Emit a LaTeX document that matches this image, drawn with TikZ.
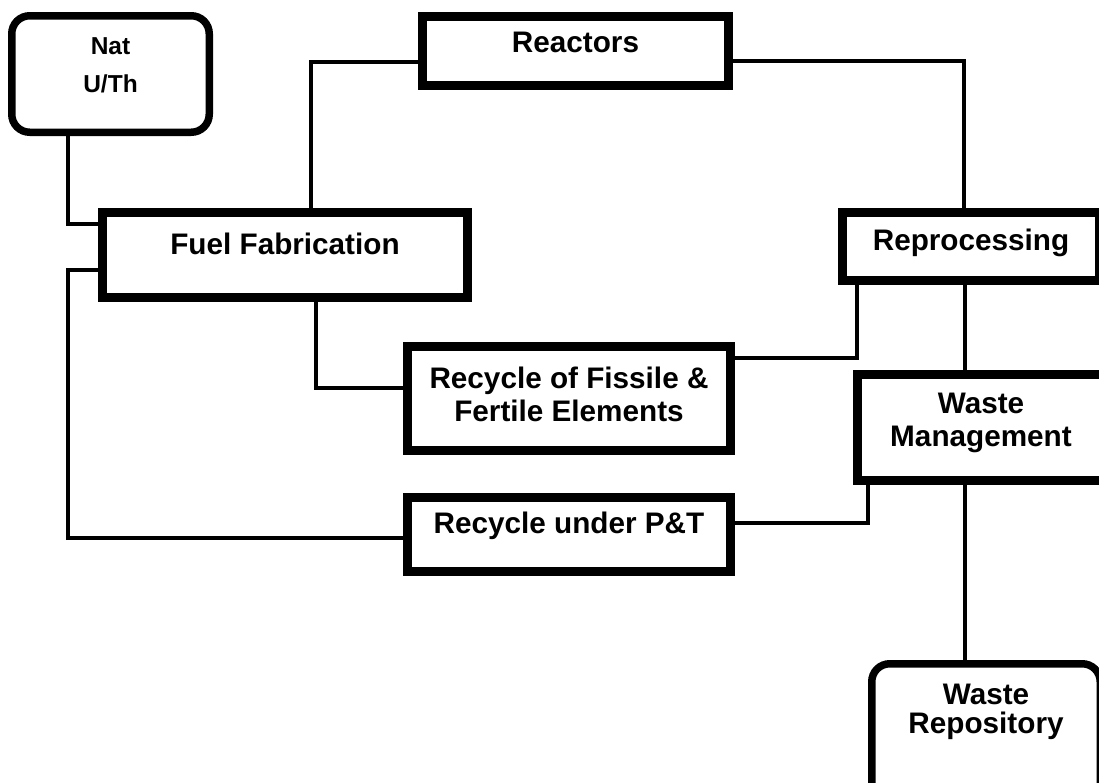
\documentclass[tikz,border=0pt]{standalone}
\usepackage{fontspec}
\setmainfont{Liberation Sans}
\usetikzlibrary{calc,positioning}
\tikzset{
  line cap=round,
  line join=round,
  stage/.style={draw, line width=9pt, line join=miter, align=center, inner sep=0pt,
    font=\bfseries\fontsize{29.7pt}{33pt}\selectfont},
  endbox/.style={stage, line width=7.5pt, rounded corners=18pt},
  link/.style={line width=4pt}
}

\begin{document}
\begin{tikzpicture}[x=1pt, y=-1pt]
  \clip (0,0) rectangle (1099,782);

  % stages
  \node[endbox, minimum width=197.5pt, minimum height=116.5pt, text depth=17.5pt,
    font=\bfseries\fontsize{24.5pt}{38pt}\selectfont] (nat) at (110.5,74) {Nat\\U/Th};
  \node[stage, minimum width=306pt, minimum height=69pt, text depth=17pt] (reac) at (575.5,51) {Reactors};
  \node[stage, minimum width=365pt, minimum height=85pt, text depth=23pt] (fab) at (285,255) {Fuel Fabrication};
  \node[stage, minimum width=257pt, minimum height=68pt, text depth=13pt] (repro) at (971,246.5) {Reprocessing};
  \node[stage, minimum width=323pt, minimum height=104pt, text depth=8.7pt] (fis) at (569,398.5) {Recycle of Fissile \&\\Fertile Elements};
  \node[stage, minimum width=247pt, minimum height=106pt, text depth=14.7pt] (wm) at (981,427.5) {Waste\\Management};
  \node[stage, minimum width=323pt, minimum height=74pt, text depth=24pt] (pt) at (569,534.5) {Recycle under P\&T};
  \node[endbox, minimum width=228.5pt, minimum height=142.5pt, text depth=51.7pt,
    font=\bfseries\fontsize{29.7pt}{29pt}\selectfont] (rep) at (986,735) {Waste\\Repository};

  % connections
  \draw[link] ([xshift=60pt]nat.south west) |- ([yshift=-16pt]fab.north west);
  \draw[link] ([yshift=-11pt]reac.west) -| ([xshift=212.5pt]fab.north west);
  \draw[link] ([yshift=-10pt]reac.east) -| ([xshift=-7pt]repro.north);
  \draw[link] ([yshift=-15pt]fab.west) -- ++(-30.5,0) |- ([yshift=-3.5pt]pt.west);
  \draw[link] ([xshift=31pt]fab.south) |- ([yshift=10.5pt]fis.west);
  \draw[link] ([yshift=40.5pt]fis.east) -| ([xshift=-114pt]repro.south);
  \draw[link] ([xshift=-6pt]repro.south) -- ([xshift=-6pt]repro.south |- wm.north);
  \draw[link] ([xshift=14.5pt]wm.south west) |- ([yshift=11.5pt]pt.east);
  \draw[link] ([xshift=-16pt]wm.south) -- ([xshift=-16pt]wm.south |- rep.north);
\end{tikzpicture}
\end{document}
